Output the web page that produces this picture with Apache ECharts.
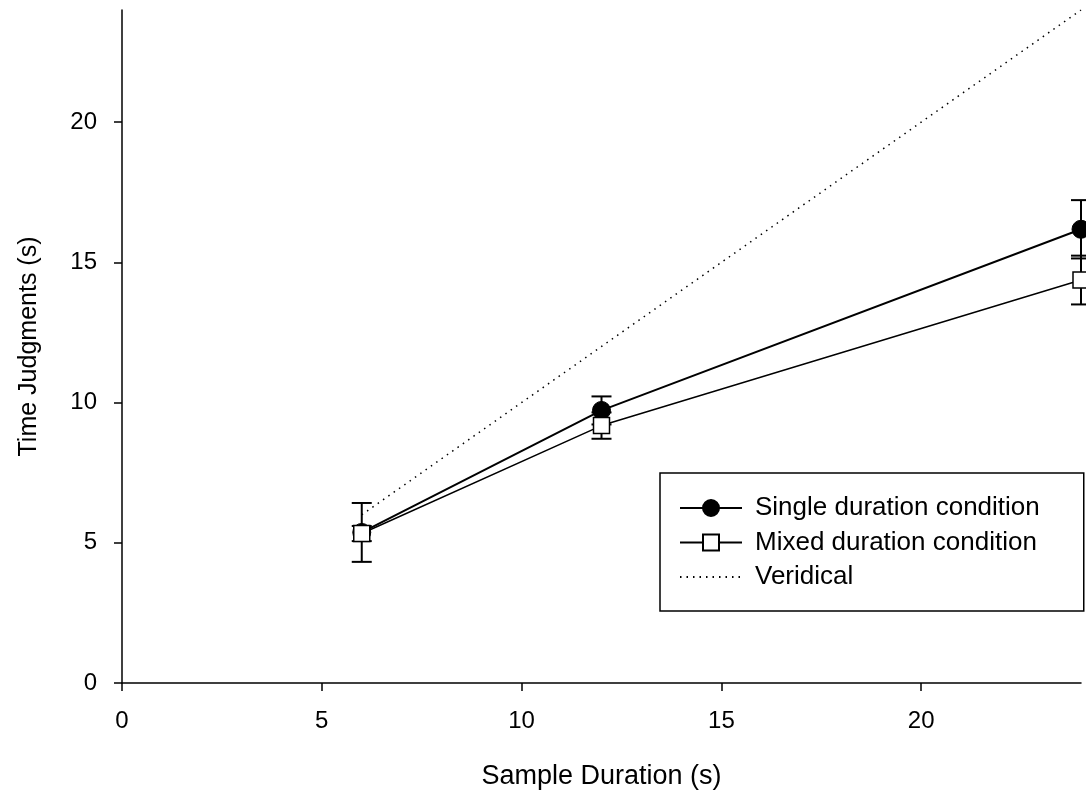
<!DOCTYPE html>
<html lang="en">
<head>
    <meta charset="utf-8">
    <title>Time Judgments</title>
    <script type="text/javascript" src="https://cdn.jsdelivr.net/npm/echarts@6/dist/echarts.min.js"></script>
    <style>
        html, body { margin: 0; padding: 0; background: #fff; }
        #main { width: 1086px; height: 802px; }
    </style>
</head>
<body>
<div id="main"></div>

<script>
    // 数据
    var durations = [6, 12, 24];
    var singleMean = [5.37, 9.72, 16.18];
    var singleErr = [1.05, 0.5, 1.04];
    var mixedMean = [5.33, 9.18, 14.37];
    var mixedErr = [0.27, 0.47, 0.87];
    var veridical = [[6, 6], [24, 24]];
    var xTicks = [0, 5, 10, 15, 20];
    var yTicks = [0, 5, 10, 15, 20];

    var font = "'Liberation Sans', Arial, Helvetica, sans-serif";

    function pairs(xs, ys) {
        return xs.map(function (x, i) { return [x, ys[i]]; });
    }

    function errData(xs, ys, es) {
        return xs.map(function (x, i) { return [x, ys[i] - es[i], ys[i] + es[i]]; });
    }

    // 误差线
    function renderErr(params, api) {
        var x = api.value(0);
        var lo = api.coord([x, api.value(1)]);
        var hi = api.coord([x, api.value(2)]);
        var half = 10;
        var style = { stroke: '#000', lineWidth: 2 };
        return {
            type: 'group',
            children: [
                { type: 'line', shape: { x1: lo[0], y1: lo[1], x2: hi[0], y2: hi[1] }, style: style },
                { type: 'line', shape: { x1: lo[0] - half, y1: lo[1], x2: lo[0] + half, y2: lo[1] }, style: style },
                { type: 'line', shape: { x1: hi[0] - half, y1: hi[1], x2: hi[0] + half, y2: hi[1] }, style: style }
            ]
        };
    }

    var chartDom = document.getElementById('main');
    var myChart = echarts.init(chartDom);
    var option;

    option = {
        animation: false,
        backgroundColor: '#fff',
        textStyle: { fontFamily: font, color: '#000' },
        grid: { left: 122, right: 5, top: 10, bottom: 119, containLabel: false },
        legend: {
            data: [
                'Single duration condition',
                'Mixed duration condition',
                { name: 'Veridical', itemStyle: { opacity: 0 } }
            ],
            orient: 'vertical',
            left: 660,
            top: 473,
            padding: [22, 44, 21, 19],
            itemGap: 8.5,
            itemWidth: 62,
            itemHeight: 20,
            borderColor: '#000',
            borderWidth: 1.5,
            borderRadius: 0,
            backgroundColor: '#fff',
            textStyle: { fontFamily: font, fontSize: 26, lineHeight: 26, color: '#000', padding: [0, 0, 0, 8] }
        },
        xAxis: {
            type: 'value',
            min: 0,
            max: 24,
            interval: 5,
            name: 'Sample Duration (s)',
            nameLocation: 'middle',
            nameGap: 80,
            nameTextStyle: { fontFamily: font, fontSize: 27, color: '#000' },
            axisLine: { show: true, onZero: false, lineStyle: { color: '#000', width: 1.5 } },
            axisTick: { show: true, inside: false, length: 8, lineStyle: { color: '#000', width: 1.5 } },
            axisLabel: {
                fontFamily: font, fontSize: 24, color: '#000', margin: 26,
                showMaxLabel: false,
                formatter: function (v) { return xTicks.indexOf(v) >= 0 ? String(v) : ''; }
            },
            splitLine: { show: false }
        },
        yAxis: {
            type: 'value',
            min: 0,
            max: 24,
            interval: 5,
            name: 'Time Judgments (s)',
            nameLocation: 'middle',
            nameGap: 80,
            nameTextStyle: { fontFamily: font, fontSize: 25, color: '#000' },
            axisLine: { show: true, onZero: false, lineStyle: { color: '#000', width: 1.5 } },
            axisTick: { show: true, inside: false, length: 8, lineStyle: { color: '#000', width: 1.5 } },
            axisLabel: {
                fontFamily: font, fontSize: 24, color: '#000', margin: 25,
                showMaxLabel: false,
                formatter: function (v) { return yTicks.indexOf(v) >= 0 ? String(v) : ''; }
            },
            splitLine: { show: false }
        },
        series: [
            {
                name: 'Veridical',
                type: 'line',
                data: veridical,
                symbol: 'none',
                lineStyle: { color: '#000', width: 1.5, type: [1.5, 5] },
                itemStyle: { color: '#000' },
                z: 1
            },
            {
                name: 'singleErr',
                type: 'custom',
                data: errData(durations, singleMean, singleErr),
                renderItem: renderErr,
                encode: { x: 0, y: [1, 2] },
                z: 2
            },
            {
                name: 'mixedErr',
                type: 'custom',
                data: errData(durations, mixedMean, mixedErr),
                renderItem: renderErr,
                encode: { x: 0, y: [1, 2] },
                z: 2
            },
            {
                name: 'Single duration condition',
                type: 'line',
                data: pairs(durations, singleMean),
                symbol: 'circle',
                symbolSize: 18,
                lineStyle: { color: '#000', width: 2 },
                itemStyle: { color: '#000', borderColor: '#000', borderWidth: 1 },
                z: 3
            },
            {
                name: 'Mixed duration condition',
                type: 'line',
                data: pairs(durations, mixedMean),
                symbol: 'rect',
                symbolSize: 16,
                lineStyle: { color: '#000', width: 1.5 },
                itemStyle: { color: '#fff', borderColor: '#000', borderWidth: 1.5 },
                z: 4
            }
        ]
    };
    myChart.setOption(option);
</script>
</body>
</html>
